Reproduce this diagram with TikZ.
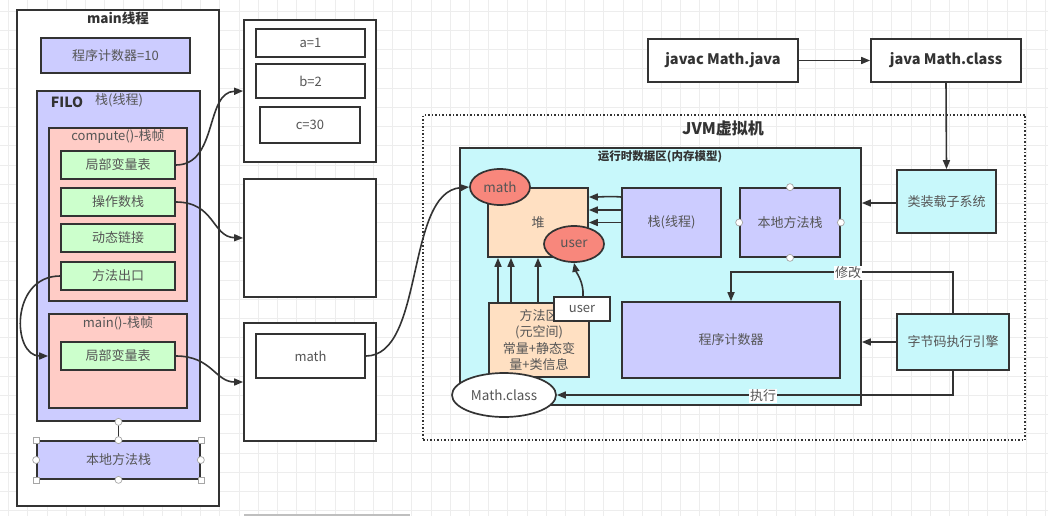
\documentclass[tikz,border=0pt]{standalone}
\usepackage{fontspec}
\setmainfont{Noto Sans CJK SC}
\usetikzlibrary{arrows.meta,shapes.geometric}
\definecolor{ln}{HTML}{333333}
\definecolor{tx}{HTML}{555555}
\definecolor{lav}{HTML}{CCCCFF}
\definecolor{pinkf}{HTML}{FFCCC6}
\definecolor{grn}{HTML}{CCFFCC}
\definecolor{cyn}{HTML}{C8F8FB}
\definecolor{peach}{HTML}{FFE0C2}
\definecolor{salm}{HTML}{F8877C}
\definecolor{gridc}{HTML}{EDEDED}
\tikzset{
  bx/.style={draw=ln, line width=1.7pt, rectangle, inner sep=0pt, text=tx, font=\fontsize{13}{15}\selectfont, align=center},
  el/.style={draw=ln, line width=1.7pt, ellipse, inner sep=0pt, text=tx, font=\fontsize{13.5}{15}\selectfont},
  arr/.style={draw=ln, line width=1.6pt, -{Triangle[length=9pt,width=7pt]}},
  lbl/.style={text=tx, font=\fontsize{13}{15}\selectfont, inner sep=1pt},
  ttl/.style={text=ln, font=\bfseries\fontsize{13.5}{15}\selectfont, inner sep=0pt},
  hc/.style={circle, draw=gray!70, fill=white, line width=0.7pt, minimum size=7pt, inner sep=0pt},
  hs/.style={rectangle, draw=gray!70, fill=white, line width=0.7pt, minimum size=6pt, inner sep=0pt},
}
\begin{document}
\begin{tikzpicture}[x=1pt,y=-1pt]
\fill[white] (0,0) rectangle (1048,516);
\useasboundingbox (0,0) rectangle (1048,516);
% faint grid
\foreach \gx in {8.4,27.6,...,1048} \draw[gridc, line width=0.6pt] (\gx,0) -- (\gx,516);
\foreach \gy in {11.2,30.4,...,516} \draw[gridc, line width=0.6pt] (0,\gy) -- (1048,\gy);

% ---------- left column: main thread ----------
\node[bx, fill=white, minimum width=202, minimum height=496] (main) at (118,258) {};
\node[ttl] (mainT) at (118,18) {main线程};
\node[bx, fill=lav, minimum width=149, minimum height=35] (pc) at (115.5,55.5) {程序计数器=10};
\node[bx, fill=lav, minimum width=163, minimum height=330] (stack) at (118.5,256) {};
\node[ttl, font=\bfseries\fontsize{14}{15}\selectfont] (filo) at (67,102) {FILO};
\node[lbl] (stackT) at (119,100) {栈(线程)};
\node[bx, fill=pinkf, minimum width=138, minimum height=173] (compute) at (118,214.5) {};
\node[lbl] (computeT) at (118,137) {compute()-栈帧};
\node[bx, fill=grn, minimum width=114, minimum height=28] (lv1) at (118,165) {局部变量表};
\node[bx, fill=grn, minimum width=114, minimum height=28] (op) at (118,202) {操作数栈};
\node[bx, fill=grn, minimum width=114, minimum height=28] (dl) at (118,238) {动态链接};
\node[bx, fill=grn, minimum width=114, minimum height=28] (me) at (118,276) {方法出口};
\node[bx, fill=pinkf, minimum width=138, minimum height=94] (mframe) at (118,361) {};
\node[lbl] (mframeT) at (118,323) {main()-栈帧};
\node[bx, fill=grn, minimum width=114, minimum height=28] (lv2) at (118,356) {局部变量表};
\node[bx, fill=lav, minimum width=163, minimum height=38] (native) at (118.5,460) {本地方法栈};
\draw[ln, line width=1pt] (stack.south) -- (native.north);
\node[hc] (h1) at (stack.south) {};
\node[hc] (h2) at (native.north) {};
\node[hc] (h3) at (native.south) {};
\node[hc] (h4) at (native.west) {};
\node[hc] (h5) at (native.east) {};
\node[hs] (h6) at (native.north west) {};
\node[hs] (h7) at (native.north east) {};
\node[hs] (h8) at (native.south west) {};
\node[hs] (h9) at (native.south east) {};

% ---------- middle column ----------
\node[bx, fill=white, minimum width=132, minimum height=142] (box1) at (310,91) {};
\node[bx, fill=white, minimum width=109, minimum height=28] (va) at (310.5,43) {a=1};
\node[bx, fill=white, minimum width=109, minimum height=34] (vb) at (310.5,81) {b=2};
\node[bx, fill=white, minimum width=100, minimum height=36] (vc) at (310,125) {c=30};
\node[bx, fill=white, minimum width=132, minimum height=118] (box2) at (310,238) {};
\node[bx, fill=white, minimum width=132, minimum height=118] (box3) at (310,382) {};
\node[bx, fill=white, minimum width=109, minimum height=44] (vm) at (310.5,356) {math};
\coordinate (cut1) at (244,515);
\coordinate (cut2) at (410,515);
\draw[gray!50, line width=1.6pt] (cut1) -- (cut2);

% left arrows
\draw[arr] (lv1.east) .. controls (218,165) and (205,92) .. (box1.west);
\draw[arr] (op.east) .. controls (215,202) and (212,237) .. (box2.west);
\draw[arr] (lv2.east) .. controls (212,356) and (215,382) .. (box3.west);
\draw[arr] (me.west) .. controls (10,276) and (12,356) .. (mframe.west |- lv2.west);

% ---------- JVM ----------
\node[draw=ln, line width=1.5pt, dotted, rectangle, minimum width=602, minimum height=325, inner sep=0pt] (jvm) at (724,277.5) {};
\node[ttl, font=\bfseries\fontsize{16}{18}\selectfont] (jvmT) at (723,128) {JVM虚拟机};
\node[bx, fill=cyn, minimum width=401, minimum height=257] (rt) at (660.5,276.5) {};
\node[ttl, font=\bfseries\fontsize{11.5}{13}\selectfont] (rtT) at (660,157) {运行时数据区(内存模型)};
\node[bx, fill=peach, minimum width=100, minimum height=69] (heap) at (538,222.5) {堆};
\node[el, fill=salm, minimum width=60, minimum height=36] (mathE) at (500,187) {math};
\node[el, fill=salm, minimum width=60, minimum height=36] (userE) at (574,244) {user};
\node[bx, fill=lav, minimum width=99, minimum height=69] (stk) at (671.5,222.5) {栈(线程)};
\node[bx, fill=lav, minimum width=100, minimum height=69] (nat) at (790,222.5) {本地方法栈};
\node[hc] (n1) at (nat.north) {};
\node[hc] (n2) at (nat.south) {};
\node[hc] (n3) at (nat.west) {};
\node[hc] (n4) at (nat.east) {};
\node[bx, fill=peach, minimum width=100, minimum height=74, font=\fontsize{13}{16.5}\selectfont] (ma) at (539,340) {方法区\\(元空间)\\常量+静态变\\量+类信息};
\node[bx, fill=white, minimum width=56, minimum height=24] (ub) at (582,309) {user};
\node[bx, fill=lav, minimum width=218, minimum height=76] (pcj) at (731,340) {程序计数器};
\node[el, fill=white, minimum width=104, minimum height=44] (mc) at (504,395) {Math.class};

\node[bx, fill=cyn, minimum width=99, minimum height=63] (cls) at (946.5,201.5) {类装载子系统};
\node[bx, fill=cyn, minimum width=112, minimum height=56] (eng) at (953,342) {字节码执行引擎};
\node[bx, fill=white, minimum width=150, minimum height=43, font=\bfseries\fontsize{14.5}{16}\selectfont, text=ln] (javac) at (723,60.5) {javac Math.java};
\node[bx, fill=white, minimum width=150, minimum height=43, font=\bfseries\fontsize{14.5}{16}\selectfont, text=ln] (java) at (946,60.5) {java Math.class};

% JVM arrows
\draw[arr] (vm.east) .. controls (425,356) and (405,192) .. (mathE.west);
\draw[arr] ([yshift=25.5pt]stk.west) .. controls (610,196) and (600,197) .. ([yshift=25.5pt]heap.east);
\draw[arr] ([yshift=12.5pt]stk.west) -- ([yshift=12.5pt]heap.east);
\draw[arr] (stk.west) -- (heap.east);
\draw[arr] ([xshift=-41pt]ma.north) -- ([xshift=-40pt]heap.south);
\draw[arr] ([xshift=-28pt]ma.north) -- ([xshift=-27pt]heap.south);
\draw[arr] ([xshift=-1pt]ma.north) -- (heap.south);
\draw[arr] ([xshift=1pt]ub.north) .. controls (584,282) and (576,272) .. (userE.south);
\draw[arr] (javac.east) -- (java.west);
\draw[arr] (java.south) -- (cls.north);
\draw[arr] ([yshift=-1.5pt]cls.west) -- (rt.east |- 0,203);
\draw[arr] (eng.west) -- (rt.east |- eng.west);
\draw[arr] (eng.north) -- ++(0,-41) coordinate (m1) -| (pcj.north);
\node[lbl, fill=white] (xg) at (848,273) {修改};
\draw[arr] (eng.south) |- (mc.east);
\node[lbl, fill=white] (zx) at (763,396) {执行};
\end{tikzpicture}
\end{document}
